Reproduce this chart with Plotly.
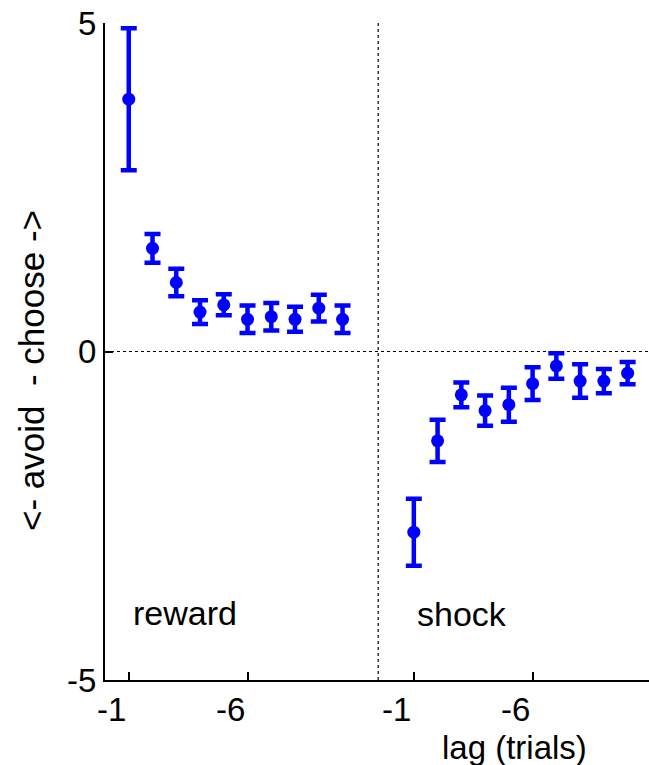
import plotly.graph_objects as go

# lag (trials) back from the current choice
lags = [-1, -2, -3, -4, -5, -6, -7, -8, -9, -10]

# regression weights (mean) and standard errors per lag
reward_mean = [3.84, 1.57, 1.05, 0.60, 0.71, 0.49, 0.53, 0.49, 0.66, 0.49]
reward_err = [1.08, 0.22, 0.21, 0.18, 0.16, 0.21, 0.21, 0.19, 0.205, 0.21]

shock_mean = [-2.75, -1.36, -0.66, -0.90, -0.81, -0.49, -0.22, -0.45, -0.45, -0.33]
shock_err = [0.51, 0.32, 0.19, 0.23, 0.26, 0.25, 0.195, 0.255, 0.185, 0.17]

x_ticklabels = ["-1", "-6"]
y_ticks = [5, 0, -5]

# two panels side by side on one axis: reward at 1..10, shock at 13..22
shock_offset = 12
reward_x = [-l for l in lags]
shock_x = [shock_offset - l for l in lags]
divider_x = (max(reward_x) + min(shock_x)) / 2

BLUE = "#0000FF"
FONT = "Liberation Sans, Arial, Helvetica, sans-serif"
FS = 33

W, H = 649, 765
ML, MR, MT, MB = 105, 0, 23, 85
plot_h = H - MT - MB


def py(pix):
    """pixel row -> paper y"""
    return (H - MB - pix) / plot_h


fig = go.Figure()

for xs, ys, es in [(reward_x, reward_mean, reward_err), (shock_x, shock_mean, shock_err)]:
    fig.add_trace(go.Scatter(
        x=xs, y=ys, mode="markers",
        marker=dict(color=BLUE, size=13),
        error_y=dict(type="data", array=es, visible=True, color=BLUE, thickness=4.5, width=8),
        showlegend=False,
    ))

# dotted reference lines: zero weight and panel divider
fig.add_shape(type="line", xref="paper", yref="y", x0=0, x1=1, y0=0, y1=0,
              line=dict(color="black", width=1.2, dash="dot"), layer="below")
fig.add_shape(type="line", xref="x", yref="paper", x0=divider_x, x1=divider_x, y0=0, y1=1,
              line=dict(color="black", width=1.2, dash="dot"), layer="below")

tickvals = [reward_x[0], reward_x[5], shock_x[0], shock_x[5]]

fig.update_xaxes(
    range=[0, 22.9], showgrid=False, zeroline=False,
    showline=True, linecolor="black", linewidth=1.5,
    tickmode="array", tickvals=tickvals, ticktext=[""] * 4,
    ticks="inside", ticklen=8, tickwidth=1.5, tickcolor="black",
)
fig.update_yaxes(
    range=[-5, 5], showgrid=False, zeroline=False,
    showline=True, linecolor="black", linewidth=1.5,
    tickmode="array", tickvals=y_ticks, ticktext=[""] * 3,
    ticks="inside", ticklen=8, tickwidth=1.5, tickcolor="black",
)

ann = []
# x tick labels
for v, t in zip(tickvals, x_ticklabels * 2):
    ann.append(dict(x=v, y=py(709), xref="x", yref="paper", text=t, showarrow=False,
                    xanchor="center", yanchor="middle", xshift=-17,
                    font=dict(size=FS, color="black", family=FONT)))
# y tick labels
for v in y_ticks:
    ann.append(dict(x=0, y=v, xref="paper", yref="y", text=str(v), showarrow=False,
                    xanchor="right", yanchor="middle", xshift=-7,
                    font=dict(size=FS, color="black", family=FONT)))
# panel labels
ann.append(dict(x=(185 - ML) / (W - ML - MR), y=py(613), xref="paper", yref="paper",
                text="reward", showarrow=False, xanchor="center", yanchor="middle",
                font=dict(size=FS + 1, color="black", family=FONT)))
ann.append(dict(x=(462 - ML) / (W - ML - MR), y=py(614), xref="paper", yref="paper",
                text="shock", showarrow=False, xanchor="center", yanchor="middle",
                font=dict(size=FS + 1, color="black", family=FONT)))
# axis titles
ann.append(dict(x=(514 - ML) / (W - ML - MR), y=py(747), xref="paper", yref="paper",
                text="lag (trials)", showarrow=False, xanchor="center", yanchor="middle",
                font=dict(size=FS, color="black", family=FONT)))
ann.append(dict(x=(31 - ML) / (W - ML - MR), y=py(371), xref="paper", yref="paper",
                text="&lt;- avoid&nbsp; - choose -&gt;", showarrow=False, textangle=-90,
                xanchor="center", yanchor="middle",
                font=dict(size=35, color="black", family=FONT)))

fig.update_layout(
    width=W, height=H,
    margin=dict(l=ML, r=MR, t=MT, b=MB),
    paper_bgcolor="white", plot_bgcolor="white",
    annotations=ann,
)

fig.write_html("out.html")
